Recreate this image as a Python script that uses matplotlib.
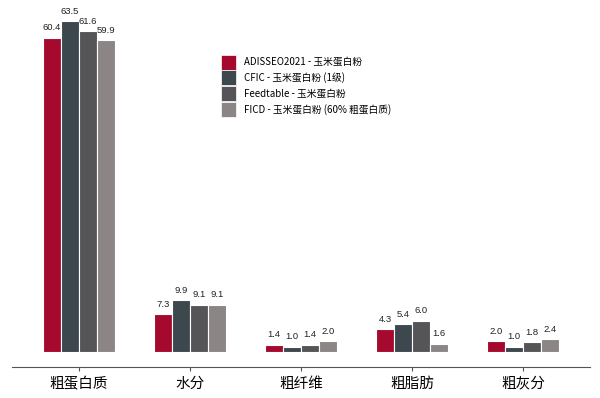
import numpy as np
from matplotlib import pyplot as plt
from matplotlib.patches import Patch

plt.rcParams['font.family'] = ['Noto Sans CJK SC', 'DejaVu Sans']

# DATOS
categorias = ['粗蛋白质', '水分', '粗纤维', '粗脂肪', '粗灰分']
series = ['ADISSEO2021 - 玉米蛋白粉', 'CFIC - 玉米蛋白粉 (1级)',
          'Feedtable - 玉米蛋白粉', 'FICD - 玉米蛋白粉 (60% 粗蛋白质)']
adisseo = [60.4, 7.3, 1.4, 4.3, 2.0]
cfic = [63.5, 9.9, 1.0, 5.4, 1.0]
feedtable = [61.6, 9.1, 1.4, 6.0, 1.8]
ficd = [59.9, 9.1, 2.0, 1.6, 2.4]
colores = ['#A50A2E', '#3D474E', '#555557', '#8C8585']

valores = [adisseo, cfic, feedtable, ficd]

fig = plt.figure(figsize=(6, 3.98), dpi=100)
ax = fig.add_axes([0.02, 0.078, 0.963, 0.91])

x = np.arange(len(categorias))
ancho = 0.162
for i, (serie, vals) in enumerate(zip(series, valores)):
    pos = x + (i - 1.5) * ancho
    ax.bar(pos, vals, width=ancho, color=colores[i], edgecolor='white', linewidth=0.8)
    for p, v in zip(pos, vals):
        ax.text(p, v + 1.0, f'{v:.1f}', ha='center', va='bottom', fontsize=6.8,
                family='Liberation Sans', color='#222222')

ax.set_xlim(-0.6, 4.6)
ax.set_ylim(-2.9, 66.7)
ax.set_yticks([])
ax.set_xticks(x)
ax.set_xticklabels(categorias, fontsize=10.5)
ax.tick_params(axis='x', length=3, color='#555555', pad=4)
for lado in ['top', 'right', 'left']:
    ax.spines[lado].set_visible(False)
ax.spines['bottom'].set_color('#555555')

# Leyenda
handles = [Patch(facecolor=c, edgecolor='white', linewidth=0.5) for c in colores]
fig.legend(handles, series, loc='upper left', bbox_to_anchor=(0.357, 0.88),
           frameon=False, fontsize=7, handlelength=1.55, handleheight=2.0,
           handletextpad=0.8, labelspacing=0.08, borderpad=0.2)

plt.savefig('out.png', dpi=100)
